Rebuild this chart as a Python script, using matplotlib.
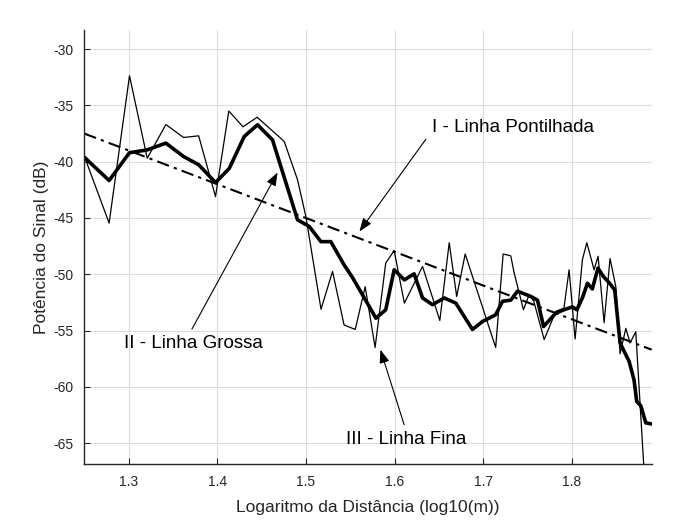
import matplotlib.pyplot as plt

plt.rcParams["font.family"] = ["Liberation Sans", "DejaVu Sans"]

# Thin line (measured signal)
thin_x = [1.250, 1.278, 1.301, 1.321, 1.342, 1.362, 1.379, 1.398, 1.413, 1.429,
          1.445, 1.4755, 1.4905, 1.500, 1.517, 1.530, 1.543, 1.5556, 1.5668, 1.578,
          1.590, 1.5995, 1.611, 1.6315, 1.651, 1.6616, 1.670, 1.6796, 1.714, 1.7224,
          1.731, 1.7349, 1.7453, 1.7518, 1.757, 1.7687, 1.7818, 1.791, 1.7968, 1.8036,
          1.8118, 1.8168, 1.825, 1.8295, 1.8363, 1.843, 1.8495, 1.8543, 1.8608, 1.8656,
          1.872, 1.8814]
thin_y = [-39.5, -45.45, -32.37, -39.7, -36.7, -37.85, -37.7, -43.1, -35.5, -36.9,
          -36.05, -38.2, -41.6, -44.9, -53.1, -49.75, -54.5, -54.9, -51.1, -56.5,
          -49.0, -47.9, -52.56, -49.3, -54.1, -47.2, -51.97, -48.2, -56.5, -48.2,
          -48.36, -49.9, -53.15, -51.8, -52.4, -55.8, -53.3, -53.0, -49.6, -55.75,
          -48.7, -47.2, -49.6, -48.4, -54.3, -48.6, -51.1, -57.06, -54.8, -56.1,
          -55.1, -67.5]

# Thick line (smoothed signal)
thick_x = [1.250, 1.278, 1.301, 1.321, 1.342, 1.362, 1.379, 1.398, 1.4135, 1.4304,
           1.4454, 1.4623, 1.4905, 1.5037, 1.5169, 1.528, 1.543, 1.5526, 1.5714, 1.5789,
           1.590, 1.5995, 1.611, 1.622, 1.6315, 1.6427, 1.656, 1.669, 1.6878, 1.699,
           1.714, 1.7217, 1.731, 1.7386, 1.7537, 1.7612, 1.768, 1.7818, 1.791, 1.8006,
           1.8055, 1.8118, 1.8175, 1.823, 1.8294, 1.8355, 1.8418, 1.8483, 1.8543, 1.8645,
           1.870, 1.8731, 1.8777, 1.8833, 1.889]
thick_y = [-39.6, -41.67, -39.2, -38.95, -38.35, -39.54, -40.27, -41.85, -40.6, -37.76,
           -36.72, -38.06, -45.16, -45.75, -47.1, -47.1, -49.16, -50.3, -52.86, -53.9,
           -53.15, -49.6, -50.5, -49.96, -52.1, -52.7, -52.1, -52.56, -54.9, -54.2,
           -53.6, -52.4, -52.3, -51.5, -51.97, -52.3, -54.64, -53.45, -53.15, -52.9,
           -53.15, -52.1, -50.8, -51.3, -49.45, -50.2, -50.73, -51.4, -56.1, -57.74,
           -59.37, -61.3, -61.68, -63.2, -63.28]

# Dash-dot line (model fit)
fit_x = [1.25, 1.89]
fit_y = [-37.5, -56.7]

x_ticks = [1.3, 1.4, 1.5, 1.6, 1.7, 1.8]
y_ticks = [-30, -35, -40, -45, -50, -55, -60, -65]

fig = plt.figure(figsize=(6.92, 5.25), dpi=100)
ax = fig.add_axes([0.1218, 0.1162, 0.82, 0.8267])

ax.plot(thin_x, thin_y, color="black", linewidth=0.9)
ax.plot(thick_x, thick_y, color="black", linewidth=2.6)
ax.plot(fit_x, fit_y, color="black", linewidth=1.5, dashes=(6, 2.5, 1.5, 2.5))

ax.set_xlim(1.25, 1.89)
ax.set_ylim(-66.85, -28.3)
ax.set_xticks(x_ticks)
ax.set_yticks(y_ticks)
ax.set_xticklabels([f"{t:.1f}" for t in x_ticks])
ax.set_yticklabels([str(t) for t in y_ticks])

ax.grid(True, color="#dcdcdc", linewidth=0.8)
ax.set_axisbelow(True)
ax.spines["top"].set_visible(False)
ax.spines["right"].set_visible(False)
for s in ["left", "bottom"]:
    ax.spines[s].set_color("#262626")
    ax.spines[s].set_linewidth(1.0)
ax.tick_params(direction="in", length=4, colors="#262626", labelsize=10, pad=8)

ax.set_xlabel("Logaritmo da Distância (log10(m))", fontsize=12.5, color="#262626", labelpad=8)
ax.set_ylabel("Potência do Sinal (dB)", fontsize=12.5, color="#262626", labelpad=3)

arrow = dict(arrowstyle="-|>,head_length=0.8,head_width=0.3", color="black",
             linewidth=0.8, shrinkA=0, shrinkB=0)
ax.annotate("", xy=(1.5603, -46.2), xytext=(1.6353, -38.0), arrowprops=arrow)
ax.annotate("", xy=(1.468, -40.96), xytext=(1.3714, -54.87), arrowprops=arrow)
ax.annotate("", xy=(1.584, -56.7), xytext=(1.6108, -63.37), arrowprops=arrow)

ax.text(1.6427, -37.0, "I - Linha Pontilhada", fontsize=13.5, va="center", ha="left")
ax.text(1.2952, -56.17, "II - Linha Grossa", fontsize=13.5, va="center", ha="left")
ax.text(1.545, -64.7, "III - Linha Fina", fontsize=13.5, va="center", ha="left")

fig.savefig("out.png", dpi=100)
